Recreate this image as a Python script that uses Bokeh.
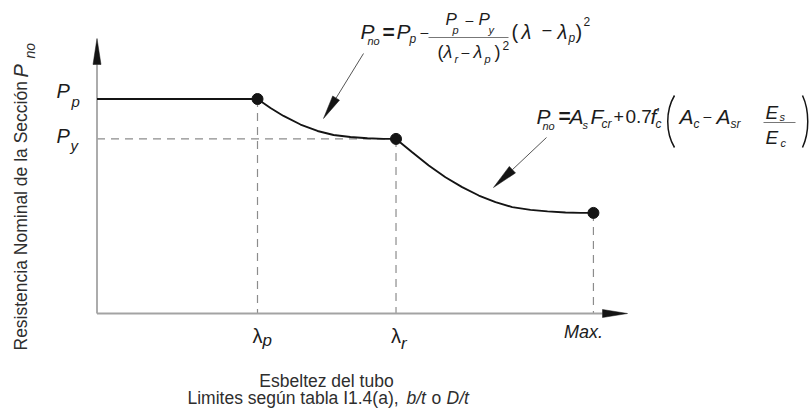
import math
from bokeh.plotting import figure
from bokeh.models import Range1d, ColumnDataSource
from bokeh.core.properties import value
from bokeh.embed import file_html
from bokeh.resources import INLINE

# ---------------- data (schematic values) ----------------
lambda_p = 1.0
lambda_r = 1.863
lambda_max = 3.093
P_p = 1.0
P_y = 0.814
P_at_max = 0.469

plateau_x = [0.0, lambda_p]
plateau_y = [P_p, P_p]

inelastic_x = [1.0, 1.081, 1.162, 1.268, 1.374, 1.474, 1.579, 1.685, 1.785, 1.863]
inelastic_y = [1.0, 0.958, 0.921, 0.881, 0.851, 0.832, 0.823, 0.817, 0.814, 0.814]

slender_x = [1.863, 1.964, 2.067, 2.171, 2.275, 2.379, 2.483, 2.587, 2.701, 2.807, 2.919, 3.012, 3.093]
slender_y = [0.814, 0.752, 0.690, 0.635, 0.589, 0.550, 0.519, 0.496, 0.483, 0.476, 0.471, 0.469, 0.469]

key_x = [lambda_p, lambda_r, lambda_max]
key_y = [P_p, P_y, P_at_max]

x_tick_symbols = ["λ", "λ", "Max."]
x_tick_subs = ["p", "r", ""]
y_tick_symbols = ["P", "P"]
y_tick_subs = ["p", "y"]

x_title_1 = "Esbeltez del tubo"
y_title = "Resistencia Nominal de la Sección"

# ---------------- layout ----------------
W, H = 810, 410
M = 0                      # page offset of the canvas
ORIGIN_PX, ORIGIN_PY = 96.5, 313.0   # page pixel of data (0,0)
SX, SY = 160.5, 214.5      # pixels per data unit
K_BASE = 0.35              # correction: rendered baseline sits lower than anchor

X0 = -(ORIGIN_PX - M) / SX
X1 = X0 + W / SX
Y1 = (ORIGIN_PY - M) / SY
Y0 = Y1 - H / SY


def to_dx(px):
    return (px - ORIGIN_PX) / SX


def to_dy(py):
    return (ORIGIN_PY - py) / SY


def px_of(x):
    return ORIGIN_PX + x * SX


def py_of(y):
    return ORIGIN_PY - y * SY


p = figure(width=W, height=H, x_range=Range1d(X0, X1), y_range=Range1d(Y0, Y1),
           output_backend="svg", toolbar_location=None,
           x_axis_location=None, y_axis_location=None,
           min_border=0, outline_line_color=None,
           background_fill_color="white", border_fill_color="white")
p.grid.visible = False

INK = "#141414"
AXIS = "#a3a3a3"
DASH = "#8c8c8c"
TXT = "#1c1c1c"
TITLE = "#2e2e2e"

# ---- dashed guide lines ----
p.segment(x0=[0.0, lambda_p, lambda_r, lambda_max],
          y0=[P_y, P_p, P_y, P_at_max],
          x1=[lambda_r, lambda_p, lambda_r, lambda_max],
          y1=[P_y, 0.0, 0.0, 0.0],
          line_color=DASH, line_width=1.2, line_dash="8 6")

# ---- axes with arrow heads ----
x_axis_end = to_dx(627)
y_axis_end = to_dy(38)


def head(tail, tip, L, w):
    (tx, ty), (hx, hy) = tail, tip
    d = math.hypot(hx - tx, hy - ty)
    ux, uy = (hx - tx) / d, (hy - ty) / d
    bx, by = hx - L * ux, hy - L * uy
    nx, ny = -uy, ux
    pts = [(hx, hy), (bx + w * nx, by + w * ny), (bx - w * nx, by - w * ny)]
    return [to_dx(a) for a, _ in pts], [to_dy(b) for _, b in pts], (bx, by)


ox, oy = px_of(0.0), py_of(0.0)
xa_tip = (px_of(x_axis_end), oy)
ya_tip = (ox, py_of(y_axis_end))
hx_xs, hx_ys, hx_base = head((ox, oy), xa_tip, 25, 4)
hy_xs, hy_ys, hy_base = head((ox, oy), ya_tip, 26, 4)
p.segment(x0=[0.0, 0.0], y0=[0.0, 0.0],
          x1=[to_dx(hx_base[0]), 0.0], y1=[0.0, to_dy(hy_base[1])],
          line_color=AXIS, line_width=1.8)

# ---- formula pointer arrows ----
a1_xs, a1_ys, a1_base = head((363, 53), (323, 118), 24, 4)
a2_xs, a2_ys, a2_base = head((546, 137), (493, 187), 26, 4.5)
p.segment(x0=[to_dx(363), to_dx(546)], y0=[to_dy(53), to_dy(137)],
          x1=[to_dx(a1_base[0]), to_dx(a2_base[0])], y1=[to_dy(a1_base[1]), to_dy(a2_base[1])],
          line_color="#555555", line_width=1.0)

p.patches(xs=[hx_xs, hy_xs, a1_xs, a2_xs], ys=[hx_ys, hy_ys, a1_ys, a2_ys],
          fill_color=INK, line_color=INK, line_width=0.5)

# ---- the strength curve ----
p.line(plateau_x, plateau_y, line_color=INK, line_width=2.2)
p.line(inelastic_x, inelastic_y, line_color=INK, line_width=1.9)
p.line(slender_x, slender_y, line_color=INK, line_width=1.9)
p.scatter(key_x, key_y, size=11, fill_color=INK, line_color=INK)

# ---- texts ----
T = dict(x=[], y=[], text=[], size=[], style=[], align=[], angle=[], color=[])


def put(s, px, py, size, style="normal", align="left", angle=0.0, color=TXT):
    # (px, py) = wanted page position of the text baseline start
    shift = K_BASE * size
    if angle == 0.0:
        py = py - shift
    else:
        px = px - shift
    T["x"].append(to_dx(px))
    T["y"].append(to_dy(py))
    T["text"].append(s)
    T["size"].append(f"{size}px")
    T["style"].append(style)
    T["align"].append(align)
    T["angle"].append(angle)
    T["color"].append(color)


# y tick labels
put(y_tick_symbols[0], 56, py_of(P_p) - 1, 20, "italic")
put(y_tick_subs[0], 71, py_of(P_p) + 7.5, 15, "italic")
put(y_tick_symbols[1], 56, py_of(P_y) + 4.5, 20, "italic")
put(y_tick_subs[1], 70, py_of(P_y) + 12, 15, "italic")

# x tick labels
put(x_tick_symbols[0], px_of(lambda_p), 342, 20, "normal", "center")
put(x_tick_subs[0], px_of(lambda_p) + 5, 346, 17, "italic")
put(x_tick_symbols[1], px_of(lambda_r), 342, 20, "normal", "center")
put(x_tick_subs[1], px_of(lambda_r) + 5, 349, 17, "italic")
put(x_tick_symbols[2], px_of(lambda_max) - 10, 338, 18, "italic", "center")

# x title (two lines)
put(x_title_1, 326, 387, 17.5, "normal", "center", color=TITLE)
put("Limites según tabla I1.4(a),", 187, 404, 17.5, color=TITLE)
put("b/t", 406, 404, 17.5, "italic", color=TITLE)
put("o", 431, 404, 17.5, color=TITLE)
put("D/t", 446, 404, 17.5, "italic", color=TITLE)

# y title (rotated)
put(y_title, 27, 350, 17.5, "normal", "left", math.pi / 2, TITLE)
put("P", 27, 77, 20, "italic", "left", math.pi / 2, TITLE)
put("no", 34, 58, 14, "italic", "left", math.pi / 2, TITLE)

# formula 1
put("P", 360, 38, 21, "italic")
put("no", 367, 44, 11, "italic")
put("=", 382, 38, 21, "bold")
put("P", 396, 38, 21, "italic")
put("p", 409, 43, 12, "italic")
put("–", 420, 36, 14)
put("P", 445, 25, 17, "italic")
put("p", 452, 33, 11, "italic")
put("–", 465, 24, 14)
put("P", 478, 25, 17, "italic")
put("y", 488, 33, 11, "italic")
put("(", 437, 58, 18)
put("λ", 443, 58, 18, "italic")
put("r", 454, 62, 11, "italic")
put("–", 461, 56, 14)
put("λ", 473, 58, 18, "italic")
put("p", 484, 62, 11, "italic")
put(")", 494, 58, 18)
put("2", 502, 49, 12)
put("(", 511, 38, 20)
put("λ", 521, 38, 20, "italic")
put("–", 542, 35, 16)
put("λ", 557, 38, 20, "italic")
put("p", 568, 42, 12, "italic")
put(")", 575, 38, 20)
put("2", 583, 25, 12)

# formula 2
S = -2
put("P", 538 + S, 123, 21, "italic")
put("no", 544 + S, 129, 11, "italic")
put("=", 560 + S, 122, 21, "bold")
put("A", 571 + S, 123, 21, "italic")
put("s", 584 + S, 128, 11, "italic")
put("F", 592 + S, 123, 21, "italic")
put("cr", 603 + S, 128, 12, "italic")
put("+", 615 + S, 122, 18)
put("0.7", 627 + S, 123, 19)
put("f", 652 + S, 123, 21, "italic")
put("’", 658 + S, 117, 15)
put("c", 657 + S, 128, 12, "italic")
put("A", 681 + S, 123, 21, "italic")
put("c", 695 + S, 128, 12, "italic")
put("–", 705 + S, 120, 14)
put("A", 718 + S, 123, 21, "italic")
put("sr", 732 + S, 128, 12, "italic")
put("E", 767 + S, 119, 19, "italic")
put("s", 781 + S, 120, 11, "italic")
put("E", 767 + S, 144, 19, "italic")
put("c", 782 + S, 146, 11, "italic")

# fraction bars
p.segment(x0=[to_dx(428), to_dx(765 + S)], y0=[to_dy(37), to_dy(122)],
          x1=[to_dx(508), to_dx(797 + S)], y1=[to_dy(37), to_dy(122)],
          line_color="#777777", line_width=1.0)

# big parentheses of formula 2
p.bezier(x0=[to_dx(676 + S), to_dx(804 + S)], y0=[to_dy(95), to_dy(95)],
         x1=[to_dx(676 + S), to_dx(804 + S)], y1=[to_dy(147), to_dy(147)],
         cx0=[to_dx(667 + S), to_dx(811 + S)], cy0=[to_dy(110), to_dy(110)],
         cx1=[to_dx(667 + S), to_dx(811 + S)], cy1=[to_dy(132), to_dy(132)],
         line_color=INK, line_width=1.5)

src = ColumnDataSource(T)
p.text(x="x", y="y", text="text", source=src,
       text_font=value("Liberation Sans"), text_font_size="size",
       text_font_style="style", text_align="align", text_baseline="alphabetic",
       angle="angle", text_color="color")

open("out.html", "w").write(file_html(p, INLINE))
